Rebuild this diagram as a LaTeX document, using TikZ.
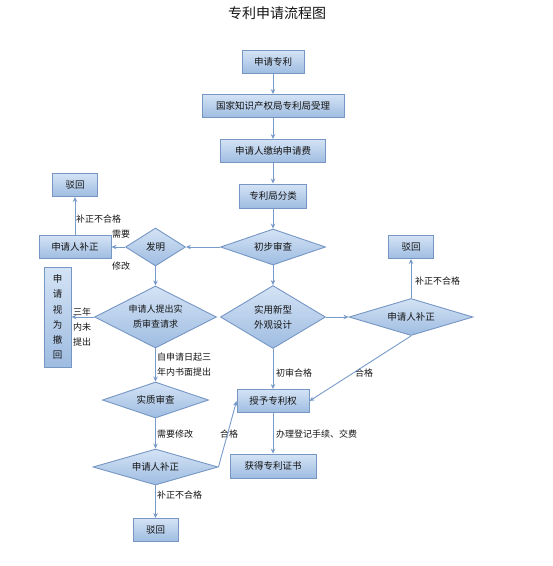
\documentclass[tikz,border=0pt]{standalone}
\usepackage{fontspec}
\setmainfont{Noto Sans CJK SC}
\usetikzlibrary{shapes.geometric,arrows.meta}
\definecolor{boxtop}{RGB}{212,227,245}
\definecolor{boxbot}{RGB}{158,188,225}
\definecolor{boxline}{RGB}{118,150,196}
\definecolor{arrowc}{RGB}{120,154,202}
\definecolor{txt}{RGB}{20,20,20}
\tikzset{
  base/.style={draw=boxline, line width=0.9pt, top color=boxtop, bottom color=boxbot,
    text=txt, font=\fontsize{9.5}{12}\selectfont, inner sep=0pt, align=center},
  rbox/.style={base, rectangle},
  dbox/.style={base, diamond, shape aspect=2.4},
  lbl/.style={text=txt, font=\fontsize{9}{15}\selectfont, inner sep=0pt, align=left},
  arr/.style={draw=arrowc, line width=0.9pt, -{Stealth[length=5pt,width=4.5pt]}}
}
\begin{document}
\begin{tikzpicture}[x=1pt,y=-1pt]
\useasboundingbox (0,0) rectangle (553,566);
\node[text=txt, font=\fontsize{14}{16}\selectfont] (title) at (277,13) {专利申请流程图};
\node[rbox, minimum width=62pt, minimum height=23pt] (n1) at (273,62) {申请专利};
\node[rbox, minimum width=142pt, minimum height=23pt] (n2) at (273,106) {国家知识产权局专利局受理};
\node[rbox, minimum width=105pt, minimum height=23pt] (n3) at (273,151) {申请人缴纳申请费};
\node[rbox, minimum width=67pt, minimum height=24pt] (n4) at (273,196) {专利局分类};
\node[dbox, minimum width=105pt, minimum height=36pt] (d1) at (273,247) {初步审查};
\node[dbox, shape aspect=1.6, minimum width=60pt, minimum height=38pt] (d2) at (155.5,247) {发明};
\node[rbox, minimum width=72pt, minimum height=23pt] (b5) at (75,247) {申请人补正};
\node[rbox, minimum width=45pt, minimum height=23pt] (b6) at (75,185) {驳回};
\node[rbox, minimum width=27pt, minimum height=100pt, font=\fontsize{9.5}{15.2}\selectfont] (v) at (57.5,317) {申\\请\\视\\为\\撤\\回};
\node[dbox, shape aspect=2, minimum width=122pt, minimum height=62pt, font=\fontsize{9}{15}\selectfont] (d3) at (155.5,317) {申请人提出实\\质审查请求};
\node[dbox, shape aspect=1.7, minimum width=105pt, minimum height=63pt, font=\fontsize{9.5}{15}\selectfont] (d4) at (273,317) {实用新型\\外观设计};
\node[dbox, shape aspect=3.2, minimum width=124pt, minimum height=37pt] (d5) at (411,317) {申请人补正};
\node[rbox, minimum width=45pt, minimum height=23pt] (b7) at (411,247) {驳回};
\node[rbox, minimum width=72pt, minimum height=23pt] (b8) at (273,401) {授予专利权};
\node[rbox, minimum width=86pt, minimum height=24pt] (b9) at (273,466) {获得专利证书};
\node[dbox, shape aspect=2.9, minimum width=106pt, minimum height=36pt] (d6) at (155.5,400) {实质审查};
\node[dbox, shape aspect=3.4, minimum width=125pt, minimum height=36pt] (d7) at (155.5,467) {申请人补正};
\node[rbox, minimum width=45pt, minimum height=23pt] (b10) at (155.5,530) {驳回};
% labels
\node[lbl, anchor=west] (l1) at (76,219) {补正不合格};
\node[lbl, anchor=west] (l2) at (112,234) {需要};
\node[lbl, anchor=west] (l3) at (112,266) {修改};
\node[lbl, anchor=west] (l4) at (73,327) {三年\\内未\\提出};
\node[lbl, anchor=west] (l5) at (415,281) {补正不合格};
\node[lbl, anchor=west] (l6) at (276,373) {初审合格};
\node[lbl] (l7) at (364,373) {合格};
\node[lbl, anchor=west] (l8) at (157,364.5) {自申请日起三\\年内书面提出};
\node[lbl, anchor=west] (l9) at (157,434) {需要修改};
\node[lbl] (l10) at (229,434) {合格};
\node[lbl, anchor=west] (l11) at (276,434) {办理登记手续、交费};
\node[lbl, anchor=west] (l12) at (157,495) {补正不合格};
% connectors
\draw[arr] (n1) -- (n2);
\draw[arr] (n2) -- (n3);
\draw[arr] (n3) -- (n4);
\draw[arr] (n4) -- (d1);
\draw[arr] (d1.west) -- (d2.east);
\draw[arr] (d2.west) -- (b5.east);
\draw[arr] (b5.north) -- (b6.south);
\draw[arr] (d2.south) -- (d3.north);
\draw[arr] (d3.west) -- (v.east |- d3.west);
\draw[arr] (d1.south) -- (d4.north);
\draw[arr] (d4.east) -- (d5.west);
\draw[arr] (d5.north) -- (b7.south);
\draw[arr] (d4.south) -- (b8.north);
\draw[arr] (d5.south) -- (b8.east);
\draw[arr] (d3.south) -- (d6.north);
\draw[arr] (d6.south) -- (d7.north);
\draw[arr] (d7.south) -- (b10.north);
\draw[arr] (d7.east) -- (b8.west);
\draw[arr] (b8) -- (b9);
\end{tikzpicture}
\end{document}
